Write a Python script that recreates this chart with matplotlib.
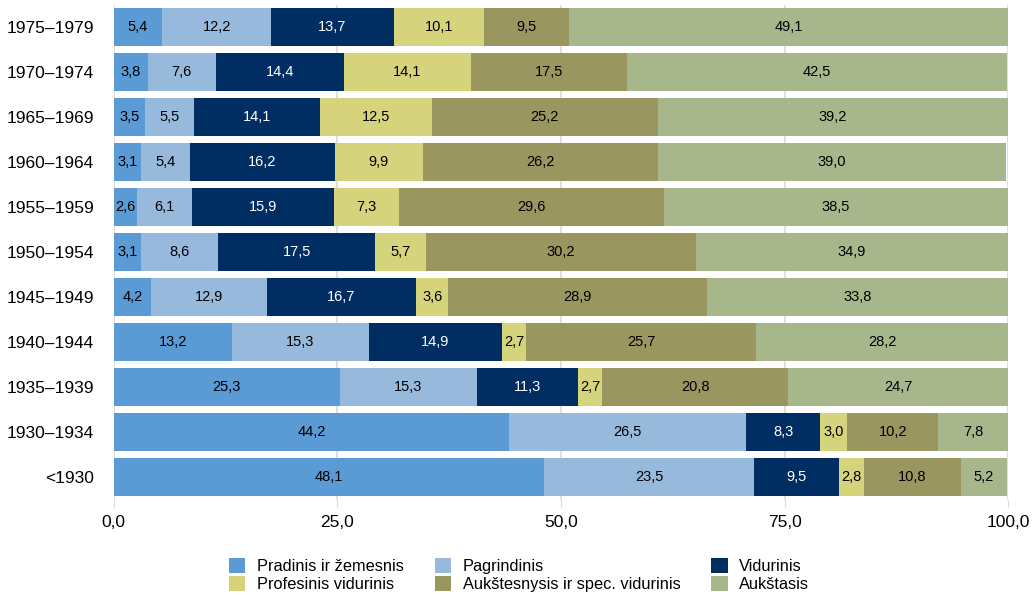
import matplotlib.pyplot as plt
import numpy as np

plt.rcParams['font.family'] = ['Liberation Sans', 'DejaVu Sans']

categories = ['<1930', '1930–1934', '1935–1939', '1940–1944', '1945–1949', '1950–1954',
              '1955–1959', '1960–1964', '1965–1969', '1970–1974', '1975–1979']

pradinis = [48.1, 44.2, 25.3, 13.2, 4.2, 3.1, 2.6, 3.1, 3.5, 3.8, 5.4]
pagrindinis = [23.5, 26.5, 15.3, 15.3, 12.9, 8.6, 6.1, 5.4, 5.5, 7.6, 12.2]
vidurinis = [9.5, 8.3, 11.3, 14.9, 16.7, 17.5, 15.9, 16.2, 14.1, 14.4, 13.7]
profesinis = [2.8, 3.0, 2.7, 2.7, 3.6, 5.7, 7.3, 9.9, 12.5, 14.1, 10.1]
aukstesnysis = [10.8, 10.2, 20.8, 25.7, 28.9, 30.2, 29.6, 26.2, 25.2, 17.5, 9.5]
aukstasis = [5.2, 7.8, 24.7, 28.2, 33.8, 34.9, 38.5, 39.0, 39.2, 42.5, 49.1]

series = [
    ('Pradinis ir žemesnis', pradinis, '#5b9bd5', 'black'),
    ('Pagrindinis', pagrindinis, '#97b9dc', 'black'),
    ('Vidurinis', vidurinis, '#002d62', 'white'),
    ('Profesinis vidurinis', profesinis, '#d5d47c', 'black'),
    ('Aukštesnysis ir spec. vidurinis', aukstesnysis, '#99965f', 'black'),
    ('Aukštasis', aukstasis, '#a8b68c', 'black'),
]

fig = plt.figure(figsize=(10.34, 5.95), dpi=100)
ax = fig.add_axes([0.110, 0.160, 0.865, 0.832])

y = np.arange(len(categories))
left = np.zeros(len(categories))
handles = {}
for name, vals, color, tcolor in series:
    vals = np.array(vals)
    bars = ax.barh(y, vals, left=left, height=0.85, color=color, label=name, zorder=3)
    handles[name] = bars
    for yi, (l, v) in enumerate(zip(left, vals)):
        ax.text(l + v / 2, yi, f'{v:.1f}'.replace('.', ','), ha='center', va='center',
                fontsize=10.5, color=tcolor, zorder=4)
    left += vals

ax.set_xlim(0, 100)
ax.set_ylim(-0.5, 10.5)
ax.set_yticks(y)
ax.set_yticklabels(categories, fontsize=12.5)
ax.set_xticks([0, 25, 50, 75, 100])
ax.set_xticklabels(['0,0', '25,0', '50,0', '75,0', '100,0'], fontsize=12.5)
ax.tick_params(axis='y', length=0, pad=14)
ax.tick_params(axis='x', length=5, color='#d9d9d9', pad=6)
ax.grid(axis='x', color='#d9d9d9', linewidth=1.2, zorder=0)
for s in ['top', 'right', 'bottom', 'left']:
    ax.spines[s].set_visible(False)

order = ['Pradinis ir žemesnis', 'Profesinis vidurinis', 'Pagrindinis',
         'Aukštesnysis ir spec. vidurinis', 'Vidurinis', 'Aukštasis']
fig.legend([handles[n] for n in order], order, loc='lower center', ncol=3,
           bbox_to_anchor=(0.502, -0.02), frameon=False, fontsize=11.8,
           handlelength=1.0, handleheight=1.0, handletextpad=0.7,
           columnspacing=1.9, labelspacing=0.12)

fig.savefig('out.png', dpi=100)
